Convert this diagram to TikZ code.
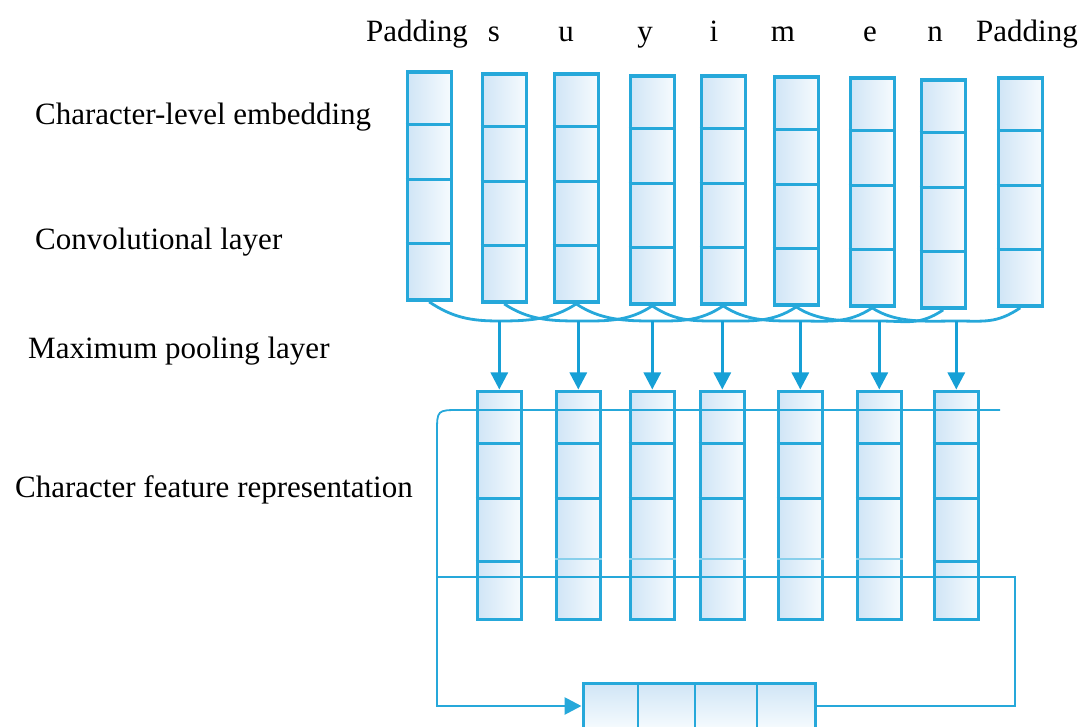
\documentclass[tikz,border=0pt]{standalone}
\usepackage{fontspec}
\setmainfont{Liberation Serif}
\usetikzlibrary{arrows.meta,calc}
\definecolor{lc}{RGB}{38,168,218}
\definecolor{ac}{RGB}{22,160,214}
\definecolor{fillL}{RGB}{208,229,246}
\definecolor{fillR}{RGB}{246,251,254}
\begin{document}
\begin{tikzpicture}[x=1pt,y=-1pt,
  col/.style={rectangle, draw=lc, line width=3.4pt, inner sep=0pt, minimum width=44pt, minimum height=228pt, anchor=north west, left color=fillL, right color=fillR},
  pcol/.style={col, line width=3.6pt},
  divl/.style={draw=lc, line width=3pt},
  curve/.style={draw=lc, line width=2.8pt},
  tip/.style={-{Triangle[length=17pt,width=17pt]}},
  arr/.style={draw=ac, line width=2.8pt, tip},
  lbl/.style={font=\fontsize{31}{31}\selectfont, inner sep=0pt, anchor=base west},
  toplbl/.style={font=\fontsize{31}{31}\selectfont, inner sep=0pt, anchor=base},
  box/.style={rectangle, draw=lc, line width=3pt, inner sep=0pt, minimum width=232pt, minimum height=46pt, top color=fillL, bottom color=fillR}
]
\useasboundingbox (0,0) rectangle (1082,727);

% left labels
\node[lbl] (l1) at (35,125) {Character-level embedding};
\node[lbl] (l2) at (35,250) {Convolutional layer};
\node[lbl] (l3) at (28,359) {Maximum pooling layer};
\node[lbl] (l4) at (15,497) {Character feature representation};

% top labels
\foreach \n/\x/\s in {a1/417/Padding,a2/494/s,a3/566/u,a4/645/y,a5/714/i,a6/783/m,a7/870/e,a8/935/n,a9/1027/Padding}
  \node[toplbl] (\n) at (\x,42) {\s};

% top columns
\foreach \i/\x/\t in {1/405.5/70.5,2/480.5/72.5,3/552.5/72.5,4/628.5/74.5,5/699.5/74.5,6/772.5/75.5,7/848.5/76.5,8/919.5/78.5,9/996.5/76.5}{
  \node[col] (t\i) at (\x,\t) {};
  \foreach \d in {54,109,173}
    \draw[divl] ($(t\i.north west)+(0,\d)$) -- ($(t\i.north east)+(0,\d)$);
}

% pooled columns
\foreach \i/\x in {1/475.5,2/554.5,3/628.5,4/698.5,5/776.5,6/855.5,7/932.5}{
  \node[pcol] (p\i) at (\x,389.5) {};
  \foreach \d in {54,109}
    \draw[divl] ($(p\i.north west)+(0,\d)$) -- ($(p\i.north east)+(0,\d)$);
}
\foreach \i in {1,7}
  \draw[divl] ($(p\i.north west)+(0,172)$) -- ($(p\i.north east)+(0,172)$);
\foreach \i in {2,...,6}
  \draw[divl, draw=lc!55, line width=2pt] ($(p\i.north west)+(0,169)$) -- ($(p\i.north east)+(0,169)$);

% convolution curves and arrows
\coordinate (lvl) at (0,321);
\foreach \k [evaluate=\k as \kk using int(\k+2)] in {1,...,7}{
  \coordinate (m\k) at (p\k.north |- lvl);
  \draw[curve] (t\k.south) .. controls +(24,16) and +(-28,0) .. (m\k)
               .. controls +(28,0) and +(-24,16) .. (t\kk.south);
  \draw[arr] (m\k) -- (p\k.north);
}

% bottom box
\node[box] (b) at (699,706) {};
\foreach \x in {638,695,757}
  \draw[draw=lc, line width=2.4pt] (\x,683) -- (\x,730);

% feature lines
\coordinate (h1) at (1000,410);
\coordinate (h2) at (437,577);
\coordinate (h3) at (1015,577);
\draw[draw=lc, line width=1.8pt] (h1) -- (460,410) .. controls (437,410) .. (437,433);
\draw[draw=lc, line width=2.8pt, tip] (437,433) -- (437,706) -- (b.west);
\draw[draw=lc, line width=2.8pt] (h2) -- (h3) -- (1015,706) -- (b.east);
\end{tikzpicture}
\end{document}
